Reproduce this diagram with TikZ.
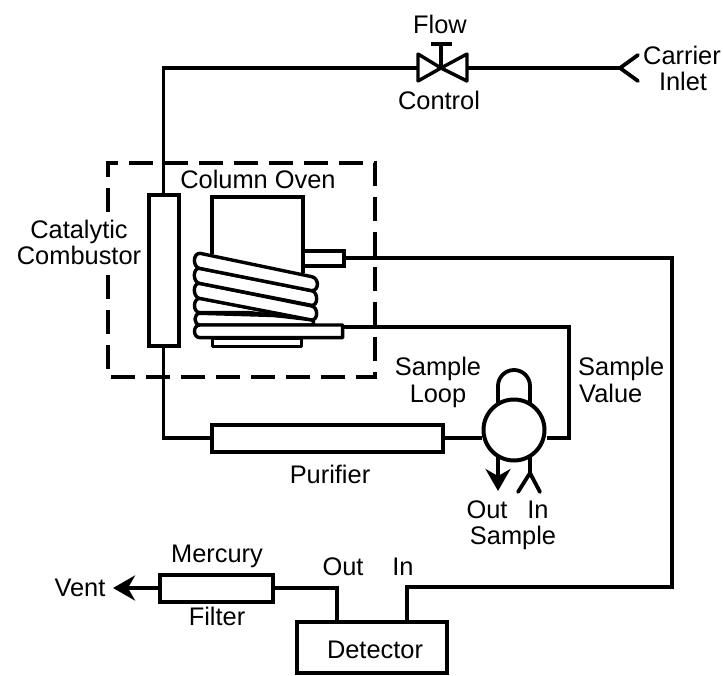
\documentclass[tikz,border=0pt]{standalone}
\usepackage{fontspec}
\setmainfont{Liberation Sans}
\usetikzlibrary{arrows.meta,positioning}
\tikzset{
  pipe/.style={line width=3.8pt,line join=miter},
  thin pipe/.style={line width=3.4pt,line join=round},
  box/.style={draw,line width=4pt,inner sep=0pt,fill=white},
  lbl/.style={inner sep=0pt,anchor=base,font=\fontsize{25.4}{30}\selectfont,text=black},
  barb/.style={-{Stealth[length=22pt,width=25pt,inset=7pt]}},
  dashbox/.style={line width=3.2pt,dash pattern=on 24pt off 11pt}
}
\begin{document}
\begin{tikzpicture}[x=1pt,y=-1pt]
\useasboundingbox (0,0) rectangle (723,675);
\fill[white] (0,0) rectangle (723,675);

% oven dashed frame
\draw[dashbox] (108,212) -- (108,163) -- (375,163) -- (375,377) -- (108,377) -- (108,273);

% boxes
\node[box,minimum width=30pt,minimum height=151pt] (comb) at (163.5,270.5) {};
\node[box,minimum width=231pt,minimum height=27pt] (puri) at (327.5,438) {};
\node[box,minimum width=113pt,minimum height=27pt] (filt) at (216.5,588) {};
\node[box,minimum width=150pt,minimum height=51pt] (det) at (372,647.5) {};
\node[draw,circle,line width=4pt,minimum size=61pt,inner sep=0pt] (valve) at (514,430) {};

% coordinates
\coordinate (inlet) at (620,68);
\coordinate (vl) at (418,68);
\coordinate (vc) at (441,68);
\coordinate (vr) at (467,68);
\coordinate (tl) at (163.5,68);
\coordinate (pl) at (163.5,438);
\coordinate (ventend) at (113,588);
\coordinate (out) at (337,588);
\coordinate (stubend) at (345,258);
\coordinate (coilend) at (344,327);
\coordinate (rc) at (672,258);
\coordinate (rb) at (672,587);
\coordinate (inb) at (407,587);
\coordinate (sc) at (569,327);
\coordinate (sb) at (569,438);
\coordinate (sout) at (498,491);
\coordinate (sin) at (530,473);

% main lines
\draw[pipe] (vl) -- (tl) -- (comb.north);
\draw[pipe] (comb.south) -- (pl) -- (puri.west);
\draw[pipe] (inlet) -- (vr);
\draw[pipe] (puri.east) -- (valve.west |- puri.east);
\draw[pipe] (valve.east |- sb) -- (sb) -- (sc) -- (coilend);
\draw[pipe] (stubend) -- (rc) -- (rb) -- (inb) -- (inb |- det.north);
\draw[pipe] (filt.east) -- (out) -- (out |- det.north);
\draw[pipe,barb] (filt.west) -- (ventend);
\draw[pipe,barb] (498,457) -- (sout);
\draw[pipe] (530,457) -- (sin);
\draw[pipe,line cap=round] (518,492) -- (sin) -- (540,492);

% carrier inlet chevron
\draw[pipe,line cap=round] (638,55) -- (inlet) -- (638,81);

% flow control valve
\draw[thin pipe] (vc) -- (vl |- 0,54) -- (vl |- 0,81) -- cycle;
\draw[thin pipe] (vc) -- (vr |- 0,54) -- (vr |- 0,81) -- cycle;
\draw[thin pipe] (vc) -- (441,44);
\draw[thin pipe] (431,44) -- (452,44);

% sample loop
\draw[pipe] (498,403) -- (498,386) arc[start angle=180,end angle=360,radius=16] -- (530,403);

% column oven
\draw[pipe] (212,254) -- (212,197) -- (303,197) -- (303,273);
\node[box,minimum width=41pt,minimum height=15pt] (stub) at (323.5,258) {};
\begin{scope}[shift={(130,170)},x=0.3333pt,y=-0.3333pt,line width=3.4pt,line join=round]
  \draw[fill=white] (248,505) rectangle (515,530);
  \draw[fill=white] (210,430) -- (550,440) -- (550,465) -- (210,465) .. controls (190,465) and (190,430) .. (210,430) -- cycle;
  \draw[fill=white] (210,385) -- (550,450) -- (360,428) -- (210,428) .. controls (188,428) and (188,385) .. (210,385) -- cycle;
  \draw[fill=white] (208,340) -- (545,408) .. controls (565,412) and (565,450) .. (545,450) -- (208,385) .. controls (188,380) and (188,340) .. (208,340) -- cycle;
  \draw[fill=white] (208,295) -- (545,362) .. controls (565,366) and (565,408) .. (545,406) -- (208,340) .. controls (188,336) and (188,295) .. (208,295) -- cycle;
  \draw[fill=white] (210,250) -- (545,320) .. controls (568,325) and (568,362) .. (545,362) -- (208,295) .. controls (188,290) and (188,250) .. (210,250) -- cycle;
  \draw[fill=white] (210,465) -- (638,465) -- (638,503) -- (210,503) .. controls (188,503) and (188,465) .. (210,465) -- cycle;
\end{scope}

% labels
\node[lbl] (flow) at (440,33) {Flow};
\node[lbl] (control) at (439,109) {Control};
\node[lbl] (carrier) at (682,64) {Carrier};
\node[lbl] (inletlbl) at (683,90) {Inlet};
\node[lbl] (catal) at (79,238) {Catalytic};
\node[lbl] (combl) at (79,264) {Combustor};
\node[lbl] (coven) at (258,188) {Column Oven};
\node[lbl] (s1) at (438,375) {Sample};
\node[lbl] (loop) at (438,402) {Loop};
\node[lbl,anchor=base west] (s2) at (578,375) {Sample};
\node[lbl,anchor=base west] (val) at (579,402) {Value};
\node[lbl] (purl) at (330,483) {Purifier};
\node[lbl] (outl) at (487,518) {Out};
\node[lbl] (inl) at (538,518) {In};
\node[lbl] (samp) at (513,544) {Sample};
\node[lbl] (merc) at (217,562) {Mercury};
\node[lbl] (filtl) at (217,625) {Filter};
\node[lbl] (o2) at (343,575) {Out};
\node[lbl] (i2) at (403,575) {In};
\node[lbl] (vent) at (80,596) {Vent};
\node[lbl] (detl) at (375,658) {Detector};
\end{tikzpicture}
\end{document}
